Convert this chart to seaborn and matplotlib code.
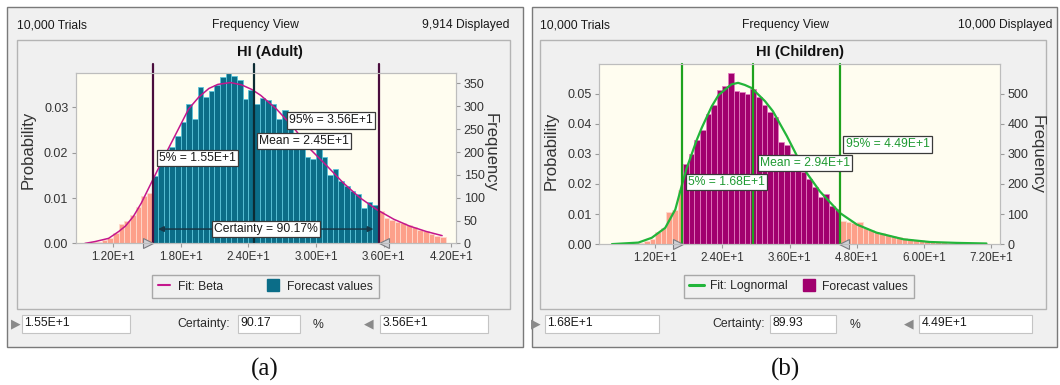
import numpy as np
import pandas as pd
import matplotlib
matplotlib.use("Agg")
import matplotlib.pyplot as plt
import matplotlib.transforms as mtransforms
from matplotlib.patches import Rectangle
from matplotlib.lines import Line2D
import seaborn as sns

# ---------------- data ----------------
# HI (Adult): histogram frequencies, bins of width 0.5 starting at 10.0
adult_bin_start = 10.0
adult_bin_width = 0.5
adult_freq = [2, 4, 7, 12, 22, 43, 50, 62, 80, 104, 110,
              147, 170, 188, 212, 236, 265, 306, 272, 342, 320,
              333, 346, 364, 375, 366, 357, 316, 336, 306, 318,
              314, 306, 272, 292, 262, 240, 213, 188, 184, 207,
              190, 150, 162, 136, 125, 114, 108, 78, 90, 84,
              70, 55, 52, 47, 44, 40, 36, 30, 28, 20, 17, 15]
adult_total = 9914
adult_p5, adult_mean, adult_p95 = 15.5, 24.5, 35.6
adult_certainty = "90.17"
adult_fit_x = [9.5, 10.4, 11.6, 12.5, 13.1, 13.8, 14.5, 15.4, 16.5, 17.5, 18.7, 19.6,
               20.5, 21.3, 22.4, 23.4, 24.3, 25.1, 26.5, 28.0, 29.5, 31.0, 32.4,
               33.9, 35.4, 36.9, 38.3, 39.8, 41.2]
adult_fit_freq = [0, 4, 11, 26, 38, 59, 88, 133, 188, 236, 294, 320,
                  339, 348, 352, 347, 337, 324, 294, 254, 206, 169, 133,
                  100, 74, 53, 38, 26, 17]
adult_xticks = [12, 18, 24, 30, 36, 42]
adult_xticklabels = ["1.20E+1", "1.80E+1", "2.40E+1", "3.00E+1", "3.60E+1", "4.20E+1"]
adult_pticks = [0.00, 0.01, 0.02, 0.03]
adult_fticks = [0, 50, 100, 150, 200, 250, 300, 350]

# HI (Children): histogram frequencies, bins of width 1.0 starting at 7.0
child_bin_start = 7.0
child_bin_width = 1.0
child_freq = [2, 3, 5, 10, 16, 40, 55, 108, 112, 180,
              265, 300, 345, 378, 432, 462, 512, 524, 569, 510,
              505, 498, 515, 490, 462, 440, 423, 340, 329, 300,
              274, 241, 218, 190, 158, 168, 125, 118,
              77, 75, 70, 73, 52, 47, 41, 36, 30, 28, 22, 21, 17, 14, 12, 10,
              8, 7, 6, 5, 5, 4, 3, 3, 2, 2]
child_total = 10000
child_p5, child_mean, child_p95 = 16.8, 29.4, 44.9
child_certainty = "89.93"
child_fit_x = [4.3, 9.0, 11.4, 13.8, 15.6, 16.8, 17.6, 18.5, 19.4, 20.3, 22.1, 23.3,
               24.5, 25.6, 26.8, 28.0, 29.2, 31.6, 33.0, 35.5, 38.4, 41.4, 45.0,
               48.0, 51.5, 56.3, 61.0, 65.8, 71.1]
child_fit_freq = [0, 5, 21, 54, 115, 198, 251, 298, 345, 386, 458, 495,
                  514, 531, 536, 529, 519, 475, 442, 359, 253, 175, 103,
                  65, 38, 16, 7, 4, 2]
child_xticks = [12, 24, 36, 48, 60, 72]
child_xticklabels = ["1.20E+1", "2.40E+1", "3.60E+1", "4.80E+1", "6.00E+1", "7.20E+1"]
child_pticks = [0.00, 0.01, 0.02, 0.03, 0.04, 0.05]
child_fticks = [0, 100, 200, 300, 400, 500]

# ---------------- style ----------------
sns.set_theme(style="white")
plt.rcParams["font.family"] = ["Liberation Sans", "DejaVu Sans"]

W, H = 1060, 385
fig = plt.figure(figsize=(W / 100, H / 100), dpi=100)
fig.patch.set_facecolor("white")


def fx(x):
    return x / W


def fy(y):
    return 1 - y / H


def rect(x0, y0, x1, y1, fc, ec, lw=1.0, z=-5):
    fig.patches.append(Rectangle((fx(x0), fy(y1)), fx(x1) - fx(x0), fy(y0) - fy(y1),
                                 transform=fig.transFigure, facecolor=fc, edgecolor=ec,
                                 linewidth=lw, zorder=z))


def ftext(x, y, s, ha="left", size=8.7, **kw):
    color = kw.pop("color", "#1a1a1a")
    fig.text(fx(x), fy(y), s, ha=ha, va="center", fontsize=size, color=color, **kw)


SALMON, SALMON_EDGE = "#fda08a", "#ffd9cc"
CREAM = "#fffdf0"
TXT = "#333333"


def draw_panel(ax, start, width, freq, total, p5, mean, p95, fit_x, fit_freq,
               in_color, in_edge, fit_color, fit_lw, line_colors, label_color,
               xlim, ptop, xticks, xticklabels, pticks, fticks,
               tag_offsets, tag_yf, lines_top, prob_label_pos, freq_label_pos):
    n = len(freq)
    centers = start + width * (np.arange(n) + 0.5)
    df = pd.DataFrame({"x": centers, "p": np.asarray(freq, dtype=float) / total})
    inside = (df["x"] > p5) & (df["x"] < p95)
    brange = (start, start + n * width)
    sns.histplot(data=df[~inside].reset_index(drop=True), x="x", weights="p",
                 binwidth=width, binrange=brange, color=SALMON,
                 edgecolor=SALMON_EDGE, linewidth=0.6, alpha=1, ax=ax, zorder=2)
    sns.histplot(data=df[inside].reset_index(drop=True), x="x", weights="p",
                 binwidth=width, binrange=brange, color=in_color,
                 edgecolor=in_edge, linewidth=0.6, alpha=1, ax=ax, zorder=2)
    for p in list(ax.patches):
        if p.get_height() == 0:
            p.remove()
    sns.lineplot(x=fit_x, y=np.asarray(fit_freq, dtype=float) / total, ax=ax,
                 color=fit_color, lw=fit_lw, zorder=4)
    ax.set_facecolor(CREAM)
    ax.set_xlim(*xlim)
    ax.set_ylim(0, ptop)
    ax.set_xticks(xticks)
    ax.set_xticklabels(xticklabels)
    ax.set_yticks(pticks)
    ax.set_yticklabels([f"{v:.2f}" for v in pticks])
    ax.tick_params(axis="both", bottom=True, left=True, length=3, width=0.8,
                   color="#9a9a9a", labelcolor=TXT, pad=2.5)
    ax.tick_params(axis="x", labelsize=8.4)
    ax.tick_params(axis="y", labelsize=9)
    ax.set_xlabel("")
    ax.set_ylabel("Probability", fontsize=12, color=TXT)
    ax.yaxis.set_label_coords(*prob_label_pos)
    for s in ax.spines.values():
        s.set_color("#bdbdbd")
        s.set_linewidth(0.8)

    # marker lines
    c5, cm, c95 = line_colors
    ax.axvline(p5, 0, lines_top, color=c5, lw=1.6, clip_on=False, zorder=6)
    ax.axvline(mean, 0, lines_top, color=cm, lw=1.6, clip_on=False, zorder=6)
    ax.axvline(p95, 0, lines_top, color=c95, lw=1.6, clip_on=False, zorder=6)

    # grabber triangles at the axis
    tl = mtransforms.offset_copy(ax.transData, fig=fig, x=-4.5, y=0, units="dots")
    tr = mtransforms.offset_copy(ax.transData, fig=fig, x=4.5, y=0, units="dots")
    ax.plot([p5], [0], marker=">", ms=7.5, mfc="#cfd0d6", mec="#7b7b80", mew=0.8,
            transform=tl, clip_on=False, zorder=9)
    ax.plot([p95], [0], marker="<", ms=7.5, mfc="#cfd0d6", mec="#7b7b80", mew=0.8,
            transform=tr, clip_on=False, zorder=9)

    bbox = dict(boxstyle="square,pad=0.18", fc="white", ec="#3a3a3a", lw=0.9)
    d5, dm, d95 = tag_offsets
    y5, ym, y95 = tag_yf
    for xv, yv, dx, txt in [(p5, y5, d5, f"5% = {p5/10:.2f}E+1"),
                            (mean, ym, dm, f"Mean = {mean/10:.2f}E+1"),
                            (p95, y95, d95, f"95% = {p95/10:.2f}E+1")]:
        ax.annotate(txt, xy=(xv, yv), xycoords=("data", "axes fraction"),
                    xytext=(dx, 0), textcoords="offset pixels",
                    ha="left" if dx > 0 else "right", va="center", fontsize=8.7,
                    color=label_color, bbox=bbox, zorder=10)

    ax2 = ax.twinx()
    ax2.set_ylim(0, ptop * total)
    ax2.set_yticks(fticks)
    ax2.set_yticklabels([str(v) for v in fticks])
    ax2.tick_params(axis="y", right=True, left=False, length=3, width=0.8,
                    color="#9a9a9a", labelsize=9, labelcolor=TXT, pad=2.5)
    ax2.set_ylabel("Frequency", fontsize=12, color=TXT, rotation=270)
    ax2.yaxis.set_label_coords(*freq_label_pos)
    for s in ax2.spines.values():
        s.set_color("#bdbdbd")
        s.set_linewidth(0.8)
    ax2.grid(False)
    return ax2


# ---------------- panel backgrounds ----------------
rect(6.8, 7, 522.5, 347, "#f0f0f0", "#7a7a7a", lw=1.0)
rect(16.5, 40, 510.5, 309, "#f0f0f0", "#b4b4b4", lw=1.0)
rect(531.7, 7, 1057, 347, "#f0f0f0", "#7a7a7a", lw=1.0)
rect(540, 40, 1045.6, 309, "#f0f0f0", "#b4b4b4", lw=1.0)

# ---------------- left: adult ----------------
axA = fig.add_axes([fx(76), fy(243.4), (456 - 76) / W, (243.4 - 72.7) / H])
draw_panel(axA, adult_bin_start, adult_bin_width, adult_freq, adult_total,
           adult_p5, adult_mean, adult_p95, adult_fit_x, adult_fit_freq,
           "#0b6d88", "#5cc4da", "#c4168c", 1.1, ("#4a0d3e", "#0c2b33", "#4a0d3e"), "#1a1a1a",
           (8.71, 42.43), 0.03768, adult_xticks, adult_xticklabels, adult_pticks, adult_fticks,
           (6.5, 5, -6), (0.499, 0.601, 0.72), 1.05, (-0.107, 0.547), (1.11, 0.53))
# certainty arrow
yc = 0.084
axA.annotate("", xy=(adult_p5, yc), xytext=(adult_p95, yc),
             xycoords=("data", "axes fraction"), textcoords=("data", "axes fraction"),
             arrowprops=dict(arrowstyle="<|-|>", color="#183848", lw=1.1,
                             mutation_scale=8, shrinkA=4, shrinkB=4), zorder=7)
axA.text((adult_p5 + adult_p95) / 2, yc, f"Certainty = {adult_certainty}%",
         transform=mtransforms.blended_transform_factory(axA.transData, axA.transAxes),
         ha="center", va="center", fontsize=8.7, color="#1a1a1a",
         bbox=dict(boxstyle="square,pad=0.18", fc="white", ec="#3a3a3a", lw=0.9), zorder=10)
axA.legend(handles=[Line2D([], [], color="#c4168c", lw=1.5),
                    Line2D([], [], ls="none", marker="s", ms=9, mfc="#0b6d88", mec="#0b6d88")],
           labels=["Fit: Beta", "Forecast values"], loc="center",
           bbox_to_anchor=(fx(265.5), fy(286.5)), bbox_transform=fig.transFigure,
           ncol=2, fontsize=8.7, handlelength=1.0, handletextpad=0.7, columnspacing=3.6,
           borderpad=0.45, frameon=True, fancybox=False, edgecolor="#a8a8a8",
           facecolor="#f0f0f0", framealpha=1)

# ---------------- right: children ----------------
axC = fig.add_axes([fx(599.3), fy(244.1), (999.9 - 599.3) / W, (244.1 - 64.2) / H])
draw_panel(axC, child_bin_start, child_bin_width, child_freq, child_total,
           child_p5, child_mean, child_p95, child_fit_x, child_fit_freq,
           "#a1006e", "#e27cbf", "#22b53a", 1.6, ("#1ea21e", "#1ea21e", "#1ea21e"), "#1f9a32",
           (2.04, 73.5), 0.0598, child_xticks, child_xticklabels, child_pticks, child_fticks,
           (6, 7.5, 6), (0.345, 0.45, 0.554), 1.0, (-0.101, 0.517), (1.1125, 0.50))
axC.legend(handles=[Line2D([], [], color="#22b53a", lw=2.2),
                    Line2D([], [], ls="none", marker="s", ms=9, mfc="#a1006e", mec="#a1006e")],
           labels=["Fit: Lognormal", "Forecast values"], loc="center",
           bbox_to_anchor=(fx(798.8), fy(286.5)), bbox_transform=fig.transFigure,
           ncol=2, fontsize=8.7, handlelength=1.25, handletextpad=0.45, columnspacing=1.2,
           borderpad=0.45, frameon=True, fancybox=False, edgecolor="#a8a8a8",
           facecolor="#f0f0f0", framealpha=1)

# ---------------- titles / headers ----------------
ftext(17, 25, "10,000 Trials")
ftext(255.3, 25, "Frequency View", ha="center")
ftext(509.5, 25, f"{adult_total:,} Displayed", ha="right")
ftext(269.6, 52, "HI (Adult)", ha="center", size=10.5, weight="bold", color="#111111")

ftext(540, 25, "10,000 Trials")
ftext(785.2, 25, "Frequency View", ha="center")
ftext(1053, 25, f"{child_total:,} Displayed", ha="right")
ftext(799.6, 52, "HI (Children)", ha="center", size=10.5, weight="bold", color="#111111")


# ---------------- bottom input rows ----------------
def bottom_row(tri_l, b1, v1, cert_x, b2, cert, pct_x, tri_r, b3, v3):
    ftext(tri_l, 324, "\u25B6", ha="center", size=9, color="#8a8a8a", family="DejaVu Sans")
    rect(b1[0], 315, b1[1], 332.7, "white", "#c4c4c4", lw=0.8, z=-4)
    ftext(b1[0] + 2.5, 322.8, v1, size=8.8)
    ftext(cert_x, 324.2, "Certainty:", size=8.8, color="#2a2a2a")
    rect(b2[0], 315, b2[1], 332.7, "white", "#c4c4c4", lw=0.8, z=-4)
    ftext(b2[0] + 2.5, 322.8, cert, size=8.8)
    ftext(pct_x, 325, "%", size=8.8, color="#2a2a2a")
    ftext(tri_r, 324, "\u25C0", ha="center", size=9, color="#8a8a8a", family="DejaVu Sans")
    rect(b3[0], 315, b3[1], 332.7, "white", "#c4c4c4", lw=0.8, z=-4)
    ftext(b3[0] + 2.5, 322.8, v3, size=8.8)


bottom_row(15.5, (22, 130), f"{adult_p5/10:.2f}E+1", 177.5, (238, 300), adult_certainty,
           313, 368.5, (380, 488), f"{adult_p95/10:.2f}E+1")
bottom_row(536, (545, 658.5), f"{child_p5/10:.2f}E+1", 712.6, (770, 836), child_certainty,
           849.5, 909, (919, 1032), f"{child_p95/10:.2f}E+1")

# ---------------- captions ----------------
fig.text(fx(265), fy(369), "(a)", ha="center", va="center", fontsize=18,
         family=["Liberation Serif", "DejaVu Serif"], color="#111111")
fig.text(fx(785), fy(369), "(b)", ha="center", va="center", fontsize=18,
         family=["Liberation Serif", "DejaVu Serif"], color="#111111")

fig.savefig("out.png", dpi=100, facecolor="white")
